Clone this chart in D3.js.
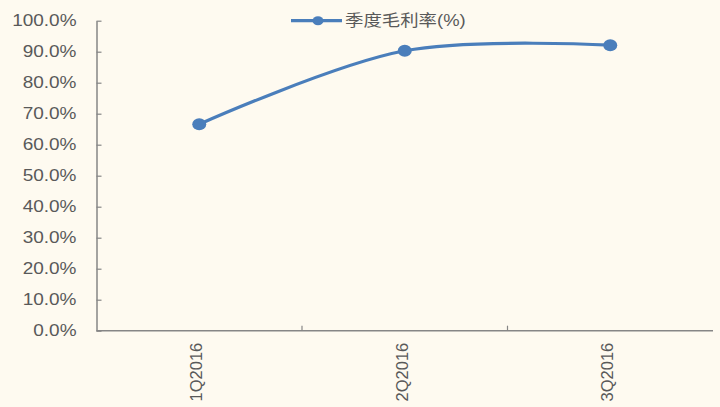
<!DOCTYPE html>
<html><head><meta charset="utf-8">
<script src="https://cdn.jsdelivr.net/npm/d3@7"></script>
<style>body{margin:0;background:#fefaf0;}svg{display:block;}</style>
</head><body>
<svg id="c" width="720" height="407"></svg>
<script>
const categories = ["1Q2016", "2Q2016", "3Q2016"];
const values = [0.666, 0.903, 0.921];
const seriesName = "季度毛利率(%)";
const yTicks = [0, 0.1, 0.2, 0.3, 0.4, 0.5, 0.6, 0.7, 0.8, 0.9, 1.0];

(function () {
const svg = d3.select("#c");
svg.append("rect").attr("width", 720).attr("height", 407).attr("fill", "#fefaf0");
const mLeft = 96.5, mRight = 713, mTop = 20.7, mBottom = 330.7;
const stretch = 1.15;
const x = d3.scaleBand().domain(categories).range([mLeft, mRight]);
const y = d3.scaleLinear().domain([0, 1]).range([mBottom, mTop]);
const font = "Arial, 'Liberation Sans', sans-serif";
const axisColor = "#868686", textColor = "#595959";

function widen(sel) {
  sel.each(function () {
    const len = this.getComputedTextLength();
    d3.select(this).attr("textLength", len * stretch).attr("lengthAdjust", "spacingAndGlyphs");
  });
}

const yAxis = svg.append("g").attr("transform", `translate(${mLeft},0)`)
  .call(d3.axisLeft(y).tickValues(yTicks).tickFormat(d3.format(".1%")).tickSizeInner(-5).tickSizeOuter(0).tickPadding(20));
yAxis.select(".domain").attr("stroke", axisColor).attr("stroke-width", 1.5);
yAxis.selectAll(".tick line").attr("stroke", axisColor).attr("stroke-width", 1.2);
yAxis.selectAll("text").attr("fill", textColor).style("font-family", font).style("font-size", "16.5px").call(widen);

const xAxis = svg.append("g").attr("transform", `translate(0,${mBottom})`)
  .call(d3.axisBottom(x).tickSize(0).tickPadding(0));
xAxis.select(".domain").attr("stroke", axisColor).attr("stroke-width", 1.5).attr("d", `M${mLeft},0H${mRight}`);
xAxis.selectAll(".tick text").attr("fill", textColor).style("font-family", font).style("font-size", "16.5px")
  .attr("transform", "rotate(-90)").attr("text-anchor", "end").attr("x", -12).attr("y", -3).attr("dy", "0.35em");
xAxis.selectAll(".bt").data(categories.slice(1)).enter().append("line").attr("class", "bt")
  .attr("x1", d => x(d)).attr("x2", d => x(d)).attr("y1", 0).attr("y2", -5).attr("stroke", axisColor).attr("stroke-width", 1.2);

const color = "#4a7ebb";
const cx = (d, i) => x(categories[i]) + x.bandwidth() / 2;
const line = d3.line().x(cx).y(d => y(d)).curve(d3.curveCatmullRom.alpha(0.5));
svg.append("path").datum(values).attr("d", line).attr("fill", "none").attr("stroke", color).attr("stroke-width", 3.2);
svg.selectAll(".pt").data(values).enter().append("ellipse")
  .attr("cx", cx).attr("cy", d => y(d)).attr("rx", 7).attr("ry", 6).attr("fill", color);

const lg = svg.append("g");
lg.append("line").attr("x1", 291).attr("x2", 342).attr("y1", 20.7).attr("y2", 20.7).attr("stroke", color).attr("stroke-width", 3.2);
lg.append("ellipse").attr("cx", 318).attr("cy", 20.7).attr("rx", 5.5).attr("ry", 4.5).attr("fill", color);
lg.append("text").attr("x", 345).attr("y", 20.7).attr("dy", "0.35em").text(seriesName)
  .attr("fill", textColor).style("font-family", "Arial, 'Noto Sans CJK SC', sans-serif").style("font-size", "16px").call(widen);
})();
</script>
</body></html>
